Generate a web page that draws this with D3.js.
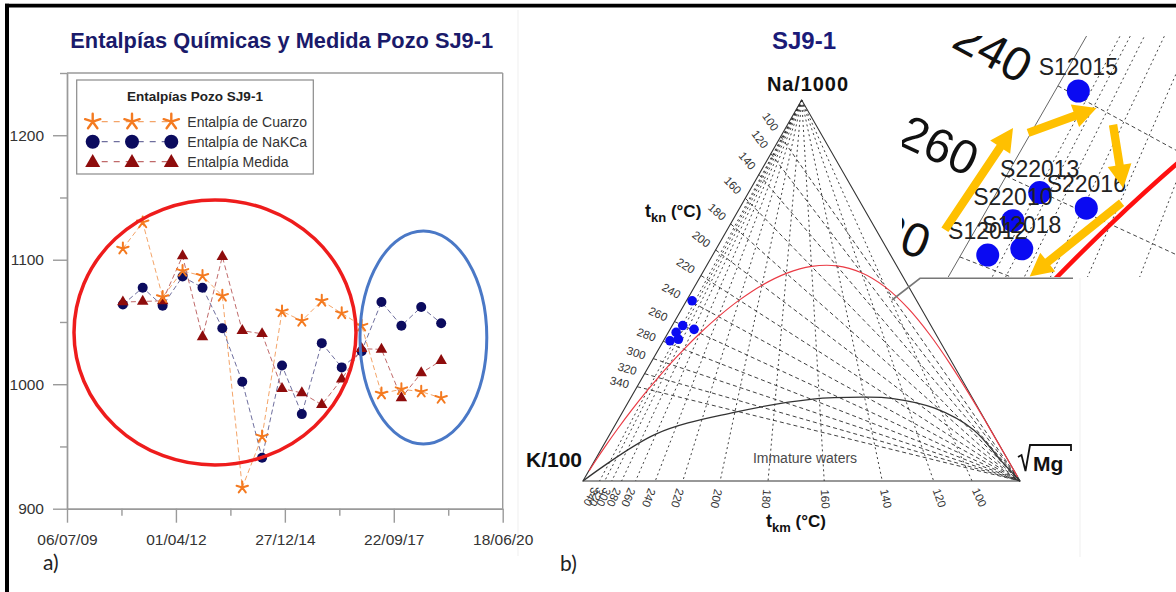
<!DOCTYPE html>
<html><head><meta charset="utf-8">
<script src="https://cdn.jsdelivr.net/npm/d3@7"></script>
<style>
html,body{margin:0;padding:0;background:#fff;}
svg{display:block;font-family:Arial,"Liberation Sans",sans-serif;}
</style></head><body>
<svg id="fig" width="1176" height="592"></svg>
<script>
// ===== Panel a) : enthalpies of well SJ9-1 =====
const sampleDates = ["2010-12-01","2011-06-01","2011-12-01","2012-06-01","2012-12-01","2013-06-01",
  "2013-12-01","2014-06-01","2014-12-01","2015-06-01","2015-12-01","2016-06-01","2016-12-01",
  "2017-06-01","2017-12-01","2018-06-01","2018-12-01"];
const entalpiaCuarzo = [1109,1130,1070,1091,1087,1071,917,958,1058.5,1051,1067,1057,1047,992.5,996,994,989];
const entalpiaNaKCa  = [1064,1077.5,1063,1086.5,1077.5,1045,1002,941,1015,976,1033,1013.5,1026.5,1066,1047,1062,1049];
const entalpiaMedida = [1066,1066.5,1067,1103,1038,1102.5,1043,1040.5,996.5,993,983.5,1004,1028.5,1028,989,1009,1019];
const xTickDates = ["2009-07-06","2012-04-01","2014-12-27","2017-09-22","2020-06-18"];
const xMinorDates = ["2010-11-18","2013-08-14","2016-05-10","2019-02-04"];
const yTicks = [900,1000,1100,1200];
const yMinorTicks = [950,1050,1150,1250];
const seriesNames = ["Entalpía de Cuarzo","Entalpía de NaKCa","Entalpía Medida"];

// ===== Panel b) : Giggenbach Na-K-Mg diagram =====
const isoTemps = [100,120,140,160,180,200,220,240,260,280,300,320,340];
const eqTemps = [-80,-60,-40,-20,0,20,40,60,80,100,120,140,160,180,200,220,240,260,280,300,320,340,380,440,520,640,900];
const immatureNa = [0,12.3,18.0,21.5,22.0,21.7,19.1,13.4,5.1,0];
const immatureMg = [0,10.5,25.6,41.8,53.1,59.7,70.9,82.7,93.3,100];
const sampleIds = ["S12015","S22013","S22016","S22010","S12018","S12012"];
const sampleNa = [47.3,40.8,39.8,39.0,37.2,36.8];
const sampleMg = [1.3,2.4,5.5,1.8,3.2,1.5];
// trend arrows in the enlarged view (Na %, Mg %) tail -> tip
const arrowTailNa = [38.42,44.62,45.14,40.14];
const arrowTailMg = [-1.70,-0.16,4.32,7.30];
const arrowTipNa  = [44.93,46.22,41.10,35.43];
const arrowTipMg  = [-1.16,2.86,6.91,4.53];

const svg = d3.select("#fig");
const parse = d3.utcParse("%Y-%m-%d");

// faint edges of the two pasted panels
svg.append("line").attr("x1",518).attr("x2",518).attr("y1",10).attr("y2",556).attr("stroke","#efefef");
svg.append("line").attr("x1",1080).attr("x2",1080).attr("y1",278).attr("y2",557).attr("stroke","#efefef");

// ---------- panel a ----------
const gA = svg.append("g");
const x = d3.scaleUtc().domain([parse("2009-07-06"), parse("2020-06-18")]).range([67, 502.7]);
const y = d3.scaleLinear().domain([900, 1250]).range([508.7, 73]);
const axisColor = "#9a9a9a";

gA.append("text").attr("x", 281.7).attr("y", 48.3).attr("text-anchor","middle")
  .attr("font-size", 21.8).attr("font-weight","bold").attr("fill","#1a1a6a")
  .text("Entalpías Químicas y Medida Pozo SJ9-1");

// frame
gA.append("line").attr("x1",67).attr("x2",502.7).attr("y1",y(1250)).attr("y2",y(1250)).attr("stroke",axisColor).attr("stroke-width",1.4);
gA.append("line").attr("x1",502.7).attr("x2",502.7).attr("y1",y(1250)).attr("y2",y(900)).attr("stroke",axisColor).attr("stroke-width",1.4);

function styleAxis(g){
  g.selectAll("path,line").attr("stroke",axisColor).attr("stroke-width",1.4);
  g.selectAll("text").attr("fill","#333").attr("font-family","Arial, 'Liberation Sans', sans-serif");
}
const yAxisMinor = gA.append("g").attr("transform","translate(67,0)")
  .call(d3.axisLeft(y).tickValues(yMinorTicks).tickSize(7).tickFormat("").tickSizeOuter(0));
const yAxis = gA.append("g").attr("transform","translate(67,0)")
  .call(d3.axisLeft(y).tickValues(yTicks).tickSize(14).tickPadding(9).tickFormat(d3.format("d")).tickSizeOuter(0));
yAxis.selectAll("text").attr("font-size",15.5);
styleAxis(yAxisMinor); styleAxis(yAxis);

const xAxisMinor = gA.append("g").attr("transform",`translate(0,${y(900)})`)
  .call(d3.axisBottom(x).tickValues(xMinorDates.map(parse)).tickSize(7).tickFormat("").tickSizeOuter(0));
const xAxis = gA.append("g").attr("transform",`translate(0,${y(900)})`)
  .call(d3.axisBottom(x).tickValues(xTickDates.map(parse)).tickSize(14).tickPadding(11)
    .tickFormat(d3.utcFormat("%d/%m/%y")).tickSizeOuter(0));
xAxis.selectAll("text").attr("font-size",15.5);
styleAxis(xAxisMinor); styleAxis(xAxis);

// marker shapes
function starPath(r){
  let p = "";
  for (let i = 0; i < 5; i++){
    const ang = -Math.PI/2 + i*2*Math.PI/5;
    p += `M0,0L${(r*Math.cos(ang)).toFixed(2)},${(r*Math.sin(ang)).toFixed(2)}`;
  }
  return p;
}
function triPath(s){
  const h = s*Math.sqrt(3)/2;
  return `M0,${-2*h/3}L${s/2},${h/3}L${-s/2},${h/3}Z`;
}
const colStar = "#f47a20", colCircle = "#0b0b5e", colTri = "#8e0c0c";
const lineCols = ["#f4a468","#6f6f9e","#c06a6a"];

const dates = sampleDates.map(parse);
const allSeries = [entalpiaCuarzo, entalpiaNaKCa, entalpiaMedida];
const lineGen = d3.line().x((d,i)=>x(dates[i])).y(d=>y(d));
allSeries.forEach((vals,k)=>{
  gA.append("path").attr("d", lineGen(vals)).attr("fill","none")
    .attr("stroke", lineCols[k]).attr("stroke-width",1).attr("stroke-dasharray","5,3");
});
gA.append("g").selectAll("circle").data(entalpiaNaKCa).join("circle")
  .attr("cx",(d,i)=>x(dates[i])).attr("cy",d=>y(d)).attr("r",5).attr("fill",colCircle);
gA.append("g").selectAll("path").data(entalpiaMedida).join("path")
  .attr("transform",(d,i)=>`translate(${x(dates[i])},${y(d)})`).attr("d",triPath(11.5)).attr("fill",colTri);
gA.append("g").selectAll("path").data(entalpiaCuarzo).join("path")
  .attr("transform",(d,i)=>`translate(${x(dates[i])},${y(d)})`).attr("d",starPath(6))
  .attr("fill","none").attr("stroke",colStar).attr("stroke-width",2).attr("stroke-linecap","round");

// legend
const lg = gA.append("g");
lg.append("rect").attr("x",76.7).attr("y",80).attr("width",236.6).attr("height",94)
  .attr("fill","#fff").attr("stroke","#8a8a8a").attr("stroke-width",1.2);
lg.append("text").attr("x",195).attr("y",100.5).attr("text-anchor","middle")
  .attr("font-size",13.5).attr("font-weight","bold").attr("fill","#222").text("Entalpías Pozo SJ9-1");
const legRowY = [121.7,141.7,161.7];
const legMarkX = [92.7,132,171.3];
seriesNames.forEach((name,k)=>{
  const yy = legRowY[k];
  lg.append("line").attr("x1",legMarkX[0]).attr("x2",legMarkX[2]).attr("y1",yy).attr("y2",yy)
    .attr("stroke",lineCols[k]).attr("stroke-width",1.2).attr("stroke-dasharray","6,6").attr("stroke-dashoffset",-9);
  legMarkX.forEach(mx=>{
    if (k===0) lg.append("path").attr("transform",`translate(${mx},${yy})`).attr("d",starPath(8))
      .attr("fill","none").attr("stroke",colStar).attr("stroke-width",2.4).attr("stroke-linecap","round");
    if (k===1) lg.append("circle").attr("cx",mx).attr("cy",yy).attr("r",7).attr("fill",colCircle);
    if (k===2) lg.append("path").attr("transform",`translate(${mx},${yy+1})`).attr("d",triPath(15)).attr("fill",colTri);
  });
  lg.append("text").attr("x",187.3).attr("y",yy+5.2).attr("font-size",14).attr("fill","#333").text(name);
});

// highlighted periods
gA.append("ellipse").attr("cx",215).attr("cy",332.5).attr("rx",141).attr("ry",132.5)
  .attr("fill","none").attr("stroke","#ee1c1c").attr("stroke-width",3.5);
gA.append("ellipse").attr("cx",423.4).attr("cy",337.5).attr("rx",63.4).attr("ry",106.5)
  .attr("fill","none").attr("stroke","#4a78c6").attr("stroke-width",3);

gA.append("text").attr("x",43).attr("y",570).attr("font-family","Lato, 'Open Sans', sans-serif")
  .attr("font-size",21).attr("fill","#222").text("a)");

// ---------- panel b ----------
const gB = svg.append("g");
const triK = [583,481], triMg = [1020,481], triNa = [801.7,100];
const baseX = d3.scaleLinear().domain([0,1]).range([triK[0], triMg[0]]);   // Mg share along the base
const heightY = d3.scaleLinear().domain([0,1]).range([triK[1], triNa[1]]); // Na share upward
function ternary(na, k, mg){
  const s = na + k + mg, a = na/s, c = mg/s;
  return [baseX(c) + a*(triNa[0]-triK[0]), heightY(a)];
}
const fromPct = (naPct, mgPct) => ternary(naPct, 100-naPct-mgPct, mgPct);
// Giggenbach geothermometers
const naKRatio = t => Math.pow(10, 1390/(t+273.15) - 1.75);   // Na/K
const k2MgRatio = t => Math.pow(10, 14 - 4410/(t+273.15));    // K^2/Mg
const tknPoint = t => ternary(naKRatio(t)/1000, 1/100, 0);
const tkmPoint = t => ternary(0, Math.sqrt(k2MgRatio(t))/100, 1);
const eqPoint  = t => ternary(naKRatio(t)/1000, 1/100, 1/Math.sqrt(k2MgRatio(t)));

gB.append("text").attr("x",804).attr("y",49).attr("text-anchor","middle")
  .attr("font-size",24).attr("font-weight","bold").attr("fill","#1b1b78").text("SJ9-1");

function drawTernary(g, T, st){
  const line = d3.line().x(p=>T(p)[0]).y(p=>T(p)[1]);
  const visible = c => c[0] > st.box[0] && c[0] < st.box[2] && c[1] > st.box[1] && c[1] < st.box[3];
  // tkn isotherms (Na-K) radiate from the Mg corner
  g.append("g").selectAll("path").data(isoTemps).join("path")
    .attr("d", t => line([tknPoint(t), triMg])).attr("fill","none")
    .attr("stroke", st.grid).attr("stroke-width", st.gridW).attr("stroke-dasharray","4,3");
  // tkm isotherms (K-Mg) radiate from the Na corner
  g.append("g").selectAll("path").data(isoTemps).join("path")
    .attr("d", t => line([triNa, tkmPoint(t)])).attr("fill","none")
    .attr("stroke", st.grid).attr("stroke-width", st.gridW).attr("stroke-dasharray","2,3");
  // triangle
  g.append("path").attr("d", line([triNa, triK, triMg]) + "Z").attr("fill","none")
    .attr("stroke", st.edge).attr("stroke-width", st.edgeW);
  // partial equilibrium curve
  if (st.immature){
    g.append("path").attr("d", d3.line().x(p=>T(p)[0]).y(p=>T(p)[1]).curve(d3.curveCatmullRom)(
        immatureNa.map((n,i)=>fromPct(n, immatureMg[i]))))
      .attr("fill","none").attr("stroke","#333").attr("stroke-width",1.3);
  }
  // full equilibrium curve
  g.append("path").attr("d", d3.line().x(p=>T(p)[0]).y(p=>T(p)[1]).curve(d3.curveCatmullRom)(eqTemps.map(eqPoint)))
    .attr("fill","none").attr("stroke", st.red).attr("stroke-width", st.redW);
  // tkn labels along the isotherms, outside the Na-K side
  const knLab = isoTemps.map(t=>{
    const p = tknPoint(t), dx = triMg[0]-p[0], dy = triMg[1]-p[1], L = Math.hypot(dx,dy);
    return {t, c: T([p[0]-18*dx/L, p[1]-18*dy/L]), ang: Math.atan2(dy,dx)*180/Math.PI};
  }).filter(d=>visible(d.c));
  g.append("g").selectAll("text").data(knLab).join("text")
    .attr("transform",d=>`translate(${d.c[0]},${d.c[1]}) rotate(${d.ang})`)
    .attr("text-anchor","middle").attr("dy","0.35em").attr("font-size",st.labelSize)
    .attr("fill",st.labelCol).text(d=>d.t);
  if (st.kmLabels){
    const kmLab = isoTemps.map(t=>{
      const p = tkmPoint(t), dx = p[0]-triNa[0], dy = p[1]-triNa[1], L = Math.hypot(dx,dy);
      return {t, c: T([p[0]+18*dx/L, p[1]+18*dy/L]), ang: Math.atan2(dy,dx)*180/Math.PI};
    });
    g.append("g").selectAll("text").data(kmLab).join("text")
      .attr("transform",d=>`translate(${d.c[0]},${d.c[1]}) rotate(${d.ang})`)
      .attr("text-anchor","middle").attr("dy","0.35em").attr("font-size",st.labelSize)
      .attr("fill",st.labelCol).text(d=>d.t);
  }
  // samples
  const pts = sampleNa.map((n,i)=>T(fromPct(n, sampleMg[i])));
  g.append("g").selectAll("circle").data(pts).join("circle")
    .attr("cx",p=>p[0]).attr("cy",p=>p[1]).attr("r",st.dotR).attr("fill","#0a0af2");
  if (st.ids){
    g.append("g").selectAll("text").data(pts).join("text")
      .attr("x",p=>p[0]).attr("y",p=>p[1]-16).attr("text-anchor","middle")
      .attr("font-size",23).attr("fill","#222").text((p,i)=>sampleIds[i]);
  }
}

const identity = p => p;
drawTernary(gB, identity, {grid:"#2a2a2a", gridW:0.9, edge:"#333", edgeW:1.1, red:"#ea3b45", redW:1.2,
  labelSize:11.5, labelCol:"#333", dotR:4.8, immature:true, kmLabels:true, ids:false, box:[0,0,1176,592]});

gB.append("text").attr("x",805).attr("y",463).attr("text-anchor","middle").attr("font-size",14)
  .attr("fill","#4a4a4a").text("Immature waters");

// vertex and axis titles
gB.append("text").attr("x",767).attr("y",90.7).attr("font-size",20).attr("font-weight","bold")
  .attr("fill","#111").attr("textLength",81).attr("lengthAdjust","spacing").text("Na/1000");
gB.append("text").attr("x",526).attr("y",467).attr("font-size",21).attr("font-weight","bold")
  .attr("fill","#111").text("K/100");
gB.append("path").attr("d","M1018,457L1021.5,455L1025.5,471L1030,445L1071,445L1071,451")
  .attr("fill","none").attr("stroke","#111").attr("stroke-width",1.8);
gB.append("text").attr("x",1033).attr("y",470.5).attr("font-size",21).attr("font-weight","bold")
  .attr("fill","#111").text("Mg");
const tkn = gB.append("text").attr("x",645).attr("y",217).attr("font-weight","bold").attr("fill","#111");
tkn.append("tspan").attr("font-size",18).text("t");
tkn.append("tspan").attr("font-size",13).attr("dy",5).text("kn");
tkn.append("tspan").attr("font-size",17).attr("dy",-5).text(" (°C)");
const tkm = gB.append("text").attr("x",766).attr("y",527).attr("font-weight","bold").attr("fill","#111");
tkm.append("tspan").attr("font-size",18).text("t");
tkm.append("tspan").attr("font-size",13).attr("dy",5).text("km");
tkm.append("tspan").attr("font-size",17).attr("dy",-5).text(" (°C)");

gB.append("text").attr("x",560).attr("y",571).attr("font-family","Lato, 'Open Sans', sans-serif")
  .attr("font-size",21).attr("fill","#222").text("b)");

// ---------- enlarged view of the samples ----------
const zoomK = 4.1;
const zoomFrom = fromPct(sampleNa[0], sampleMg[0]);
const zoomTo = [1078.3, 91];
const toInset = p => [(p[0]-zoomFrom[0])*zoomK + zoomTo[0], (p[1]-zoomFrom[1])*zoomK + zoomTo[1]];

svg.append("clipPath").attr("id","insetClip").append("rect")
  .attr("x",902).attr("y",36).attr("width",274).attr("height",241);
// leader line to the enlarged view
gB.append("path").attr("d","M892,300L920,278.3L1073,278.3").attr("fill","none")
  .attr("stroke","#777").attr("stroke-width",1.6);
const gI = svg.append("g").attr("clip-path","url(#insetClip)");
drawTernary(gI, toInset, {grid:"#444", gridW:1, edge:"#666", edgeW:1, red:"#ff1010", redW:4.5,
  labelSize:48, labelCol:"#111", dotR:11.5, immature:false, kmLabels:false, ids:true, box:[860,-10,1200,300]});

function arrowPath(p0, p1){
  const dx = p1[0]-p0[0], dy = p1[1]-p0[1], L = Math.hypot(dx,dy);
  const ux = dx/L, uy = dy/L, nx = -uy, ny = ux;
  const w = 4.2, hw = 12, h = 23;
  const bx = p1[0]-ux*h, by = p1[1]-uy*h;
  const pts = [[p0[0]+nx*w,p0[1]+ny*w],[bx+nx*w,by+ny*w],[bx+nx*hw,by+ny*hw],p1,
               [bx-nx*hw,by-ny*hw],[bx-nx*w,by-ny*w],[p0[0]-nx*w,p0[1]-ny*w]];
  return "M" + pts.map(p=>p[0].toFixed(1)+","+p[1].toFixed(1)).join("L") + "Z";
}
gI.append("g").selectAll("path").data(arrowTailNa).join("path")
  .attr("d",(n,i)=>arrowPath(toInset(fromPct(n, arrowTailMg[i])), toInset(fromPct(arrowTipNa[i], arrowTipMg[i]))))
  .attr("fill","#ffc000");

// outer frame: top and left rules only
svg.append("line").attr("x1",5).attr("x2",1176).attr("y1",5.6).attr("y2",5.6)
  .attr("stroke","#000").attr("stroke-width",3.6);
svg.append("line").attr("x1",7).attr("x2",7).attr("y1",3.8).attr("y2",592)
  .attr("stroke","#000").attr("stroke-width",4);
</script>
</body></html>
